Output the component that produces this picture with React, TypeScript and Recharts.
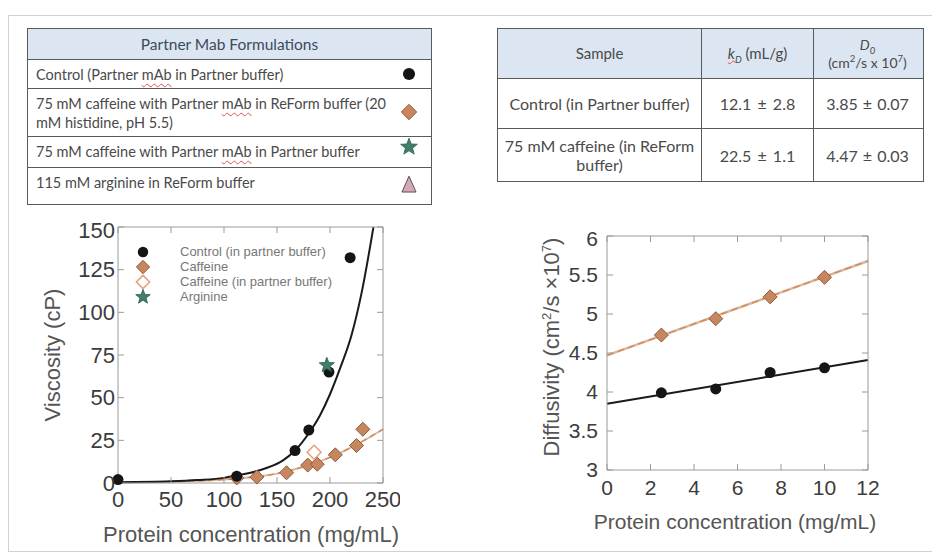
import React from 'react';
import { ComposedChart, Scatter, Line, XAxis, YAxis } from 'recharts';

// viscosity panel (left)
const viscTicksX = [0, 50, 100, 150, 200, 250];
const viscTicksY = [0, 25, 50, 75, 100, 125, 150];
const controlVisc = [
  { x: 0, y: 2 }, { x: 112, y: 4 }, { x: 167, y: 19 }, { x: 180, y: 31 }, { x: 199, y: 65 }, { x: 219, y: 132 },
];
const caffeineVisc = [
  { x: 112, y: 3 }, { x: 131, y: 3.5 }, { x: 159, y: 6 }, { x: 179, y: 10.5 }, { x: 188, y: 11 },
  { x: 205, y: 16.5 }, { x: 225, y: 22 }, { x: 231, y: 31.5 },
];
const caffeinePartnerVisc = [{ x: 185, y: 18 }];
const arginineVisc = [{ x: 197, y: 69 }];
const controlViscFit = [
  { x: 0, y: 0.5 }, { x: 50, y: 1 }, { x: 75, y: 1.7 }, { x: 100, y: 3 }, { x: 112, y: 4.5 }, { x: 125, y: 6 },
  { x: 140, y: 8.8 }, { x: 155, y: 13 }, { x: 167, y: 19 }, { x: 181, y: 30 }, { x: 190, y: 39 },
  { x: 200, y: 52 }, { x: 210, y: 68 }, { x: 220, y: 86 }, { x: 230, y: 112 }, { x: 241, y: 150 },
];
const caffeineViscFit = [
  { x: 0, y: 0.3 }, { x: 50, y: 0.8 }, { x: 100, y: 2 }, { x: 125, y: 3.3 }, { x: 150, y: 5.5 },
  { x: 175, y: 9.5 }, { x: 200, y: 15 }, { x: 225, y: 22.5 }, { x: 250, y: 31.5 },
];

// diffusivity panel (right)
const diffTicksX = [0, 2, 4, 6, 8, 10, 12];
const diffTicksY = [3, 3.5, 4, 4.5, 5, 5.5, 6];
const controlDiff = [{ x: 2.5, y: 3.99 }, { x: 5, y: 4.04 }, { x: 7.5, y: 4.25 }, { x: 10, y: 4.31 }];
const caffeineDiff = [{ x: 2.5, y: 4.73 }, { x: 5, y: 4.94 }, { x: 7.5, y: 5.22 }, { x: 10, y: 5.47 }];
const controlDiffFit = [{ x: 0, y: 3.85 }, { x: 12, y: 4.41 }];
const caffeineDiffFit = [{ x: 0, y: 4.47 }, { x: 12, y: 5.68 }];

// tables
const formulations = [
  { text: ['Control (Partner mAb in Partner buffer)'], marker: 'circle', h: 29 },
  { text: ['75 mM caffeine with Partner mAb in ReForm buffer (20', 'mM histidine, pH 5.5)'], marker: 'diamond', h: 48 },
  { text: ['75 mM caffeine with Partner mAb in Partner buffer'], marker: 'star', h: 31 },
  { text: ['115 mM arginine in ReForm buffer'], marker: 'triangle', h: 36 },
];
const sampleRows = [
  { sample: ['Control (in Partner buffer)'], kd: '12.1 ± 2.8', d0: '3.85 ± 0.07' },
  { sample: ['75 mM caffeine (in ReForm', 'buffer)'], kd: '22.5 ± 1.1', d0: '4.47 ± 0.03' },
];
const legendItems = [
  { label: 'Control (in partner buffer)', marker: 'circle' },
  { label: 'Caffeine', marker: 'diamond' },
  { label: 'Caffeine (in partner buffer)', marker: 'hollow' },
  { label: 'Arginine', marker: 'star' },
];

const FONT = '"Liberation Sans", Arial, sans-serif';
const TFONT = 'Lato, "Open Sans", sans-serif';
const AXIS = '#9a9a9a';

function Marker({ kind, cx, cy, s = 1 }: { kind: string; cx: number; cy: number; s?: number }) {
  if (kind === 'circle') return <circle cx={cx} cy={cy} r={5.5 * s} fill="#151515" />;
  if (kind === 'diamond' || kind === 'hollow') {
    const r = 7 * s;
    const pts = `${cx},${cy - r} ${cx + r},${cy} ${cx},${cy + r} ${cx - r},${cy}`;
    return kind === 'diamond'
      ? <polygon points={pts} fill="#c8865f" stroke="#8e5b3d" strokeWidth={1} />
      : <polygon points={pts} fill="#fff" stroke="#e2a07a" strokeWidth={1.5} />;
  }
  if (kind === 'star') {
    const pts: string[] = [];
    for (let i = 0; i < 10; i++) {
      const r = (i % 2 === 0 ? 8 : 3.4) * s;
      const a = -Math.PI / 2 + (i * Math.PI) / 5;
      pts.push(`${cx + r * Math.cos(a)},${cy + r * Math.sin(a)}`);
    }
    return <polygon points={pts.join(' ')} fill="#3f8068" stroke="#2c5e4b" strokeWidth={0.8} />;
  }
  const r = 8 * s;
  return <polygon points={`${cx},${cy - r} ${cx + r * 0.8},${cy + r * 0.8} ${cx - r * 0.8},${cy + r * 0.8}`} fill="#d9a6b4" stroke="#555" strokeWidth={1} />;
}

function Spell({ line }: { line: string }) {
  const parts = line.split(/(mAb)/);
  return (
    <>
      {parts.map((p, i) =>
        p === 'mAb' ? (
          <span key={i} style={{ textDecoration: 'underline wavy #e05050', textDecorationThickness: 1, textUnderlineOffset: 3 }}>{p}</span>
        ) : (
          <span key={i}>{p}</span>
        ),
      )}
    </>
  );
}

const border = '1.5px solid #5a5a5a';

function FormulationTable() {
  return (
    <div style={{ position: 'absolute', left: 27, top: 28, width: 405, border, fontFamily: TFONT, fontSize: 14.5, color: '#4a4a4a', boxSizing: 'border-box' }}>
      <div style={{ height: 30, background: '#dce6f2', borderBottom: border, display: 'flex', alignItems: 'center', justifyContent: 'center', color: '#3d4a5c', fontSize: 15.5 }}>
        Partner Mab Formulations
      </div>
      {formulations.map((row, i) => (
        <div key={i} style={{ position: 'relative', height: row.h, borderBottom: i < formulations.length - 1 ? border : 'none', padding: '5px 8px', boxSizing: 'border-box', lineHeight: '19px', whiteSpace: 'nowrap' }}>
          {row.text.map((t, j) => (
            <div key={j}><Spell line={t} /></div>
          ))}
          <svg width={24} height={24} style={{ position: 'absolute', right: 10, top: row.marker === 'star' ? -2 : row.h / 2 - 13 }}>
            <Marker kind={row.marker} cx={12} cy={12} s={1.1} />
          </svg>
        </div>
      ))}
    </div>
  );
}

function SampleTable() {
  const cols = [204, 112, 107];
  const cell = (w: number, h: number, extra: React.CSSProperties = {}) => ({
    width: w, height: h, display: 'flex', flexDirection: 'column' as const, alignItems: 'center', justifyContent: 'center',
    textAlign: 'center' as const, boxSizing: 'border-box' as const, lineHeight: '19px', ...extra,
  });
  const small: React.CSSProperties = { fontSize: 9.5, lineHeight: 0 };
  return (
    <div style={{ position: 'absolute', left: 497, top: 28, width: 427, border, fontFamily: TFONT, fontSize: 16, color: '#4a4a4a', boxSizing: 'border-box' }}>
      <div style={{ display: 'flex', background: '#dce6f2', borderBottom: border, fontSize: 15 }}>
        <div style={cell(cols[0], 49, { borderRight: border })}>Sample</div>
        <div style={cell(cols[1], 49, { borderRight: border })}>
          <span>
            <span style={{ fontStyle: 'italic', textDecoration: 'underline wavy #e05050', textDecorationThickness: 1 }}>k<sub style={small}>D</sub></span> (mL/g)
          </span>
        </div>
        <div style={cell(cols[2], 49, { lineHeight: '17px', fontSize: 14 })}>
          <span style={{ fontStyle: 'italic', display: 'block', marginBottom: 1 }}>D<sub style={small}>0</sub></span>
          <span style={{ display: 'block' }}>(cm<sup style={small}>2</sup>/s x 10<sup style={small}>7</sup>)</span>
        </div>
      </div>
      {sampleRows.map((r, i) => (
        <div key={i} style={{ display: 'flex', borderBottom: i < sampleRows.length - 1 ? border : 'none' }}>
          <div style={cell(cols[0], i === 0 ? 49 : 52, { borderRight: border })}>
            {r.sample.map((s, j) => <span key={j}>{s}</span>)}
          </div>
          <div style={cell(cols[1], i === 0 ? 49 : 52, { borderRight: border, wordSpacing: 2 })}>{r.kd}</div>
          <div style={cell(cols[2], i === 0 ? 49 : 52, { wordSpacing: 1 })}>{r.d0}</div>
        </div>
      ))}
    </div>
  );
}

const noTick = () => <g />;

function ViscosityChart() {
  const tickStyle = { fill: '#3c3c3c', fontSize: 22, fontFamily: FONT };
  return (
    <div style={{ position: 'absolute', left: 40, top: 217 }}>
      <ComposedChart width={360} height={320} margin={{ top: 9, right: 16, bottom: 14, left: 18 }}>
        <XAxis dataKey="x" type="number" domain={[0, 250]} ticks={viscTicksX} tick={tickStyle} tickSize={-6} tickMargin={14} height={40} axisLine={{ stroke: AXIS }} tickLine={{ stroke: AXIS }} />
        <XAxis xAxisId="top" orientation="top" dataKey="x" type="number" domain={[0, 250]} ticks={viscTicksX} tick={noTick} tickSize={-6} height={1} axisLine={{ stroke: AXIS }} tickLine={{ stroke: AXIS }} />
        <YAxis dataKey="y" type="number" domain={[0, 150]} ticks={viscTicksY} tick={tickStyle} tickSize={-6} tickMargin={9} width={60} axisLine={{ stroke: AXIS }} tickLine={{ stroke: AXIS }} />
        <YAxis yAxisId="right" orientation="right" dataKey="y" type="number" domain={[0, 150]} ticks={viscTicksY} tick={noTick} tickSize={-6} width={1} axisLine={{ stroke: AXIS }} tickLine={{ stroke: AXIS }} />
        <Line data={caffeineViscFit} dataKey="y" type="monotone" stroke="#d9b9a3" strokeWidth={2} dot={false} isAnimationActive={false} />
        <Line data={caffeineViscFit} dataKey="y" type="monotone" stroke="#d98b55" strokeWidth={1.5} strokeDasharray="6 4" dot={false} isAnimationActive={false} />
        <Line xAxisId="top" yAxisId="right" data={controlViscFit} dataKey="y" type="monotone" stroke="#1a1a1a" strokeWidth={2} dot={false} isAnimationActive={false} />
        <Scatter data={caffeineVisc} isAnimationActive={false} shape={(p: any) => <Marker kind="diamond" cx={p.cx} cy={p.cy} />} />
        <Scatter data={caffeinePartnerVisc} isAnimationActive={false} shape={(p: any) => <Marker kind="hollow" cx={p.cx} cy={p.cy} />} />
        <Scatter data={controlVisc} isAnimationActive={false} shape={(p: any) => <Marker kind="circle" cx={p.cx} cy={p.cy} />} />
        <Scatter data={arginineVisc} isAnimationActive={false} shape={(p: any) => <Marker kind="star" cx={p.cx} cy={p.cy} />} />
      </ComposedChart>
    </div>
  );
}

function DiffusivityChart() {
  const tickStyle = { fill: '#3c3c3c', fontSize: 21, fontFamily: FONT };
  return (
    <div style={{ position: 'absolute', left: 540, top: 226 }}>
      <ComposedChart width={345} height={300} margin={{ top: 9, right: 16, bottom: 16, left: 15 }}>
        <XAxis dataKey="x" type="number" domain={[0, 12]} ticks={diffTicksX} tick={tickStyle} tickSize={-6} tickMargin={16} height={40} axisLine={{ stroke: AXIS }} tickLine={{ stroke: AXIS }} />
        <XAxis xAxisId="top" orientation="top" dataKey="x" type="number" domain={[0, 12]} ticks={diffTicksX} tick={noTick} tickSize={-6} height={1} axisLine={{ stroke: AXIS }} tickLine={{ stroke: AXIS }} />
        <YAxis dataKey="y" type="number" domain={[3, 6]} ticks={diffTicksY} tick={tickStyle} tickSize={-6} tickMargin={15} width={52} axisLine={{ stroke: AXIS }} tickLine={{ stroke: AXIS }} />
        <YAxis yAxisId="right" orientation="right" dataKey="y" type="number" domain={[3, 6]} ticks={diffTicksY} tick={noTick} tickSize={-6} width={1} axisLine={{ stroke: AXIS }} tickLine={{ stroke: AXIS }} />
        <Line data={caffeineDiffFit} dataKey="y" type="linear" stroke="#d9b9a3" strokeWidth={2.5} dot={false} isAnimationActive={false} />
        <Line data={caffeineDiffFit} dataKey="y" type="linear" stroke="#d98b55" strokeWidth={1.5} strokeDasharray="7 4" dot={false} isAnimationActive={false} />
        <Line xAxisId="top" yAxisId="right" data={controlDiffFit} dataKey="y" type="linear" stroke="#1a1a1a" strokeWidth={2} dot={false} isAnimationActive={false} />
        <Scatter data={caffeineDiff} isAnimationActive={false} shape={(p: any) => <Marker kind="diamond" cx={p.cx} cy={p.cy} />} />
        <Scatter data={controlDiff} isAnimationActive={false} shape={(p: any) => <Marker kind="circle" cx={p.cx} cy={p.cy} />} />
      </ComposedChart>
    </div>
  );
}

function ViscosityLegend() {
  return (
    <div style={{ position: 'absolute', left: 133, top: 244, fontFamily: FONT, fontSize: 13, color: '#777' }}>
      {legendItems.map((it) => (
        <div key={it.label} style={{ display: 'flex', alignItems: 'center', height: 15 }}>
          <svg width={20} height={16}>
            <Marker kind={it.marker} cx={10} cy={8} s={0.95} />
          </svg>
          <span style={{ marginLeft: 27, lineHeight: '15px' }}>{it.label}</span>
        </div>
      ))}
    </div>
  );
}

const titleStyle: React.CSSProperties = { position: 'absolute', fontFamily: FONT, color: '#555', whiteSpace: 'nowrap' };

export default function App() {
  return (
    <div style={{ position: 'absolute', left: 0, top: 0, width: 932, height: 559, background: '#fff', overflow: 'hidden' }}>
      <div style={{ position: 'absolute', left: 8, top: 15, width: 940, height: 535, border: '1px solid #d2d2d2' }} />
      <FormulationTable />
      <SampleTable />
      <ViscosityChart />
      <DiffusivityChart />
      <ViscosityLegend />
      <div style={{ ...titleStyle, left: 53, top: 355, fontSize: 22, transform: 'translate(-50%, -50%) rotate(-90deg)' }}>Viscosity (cP)</div>
      <div style={{ ...titleStyle, left: 251, top: 535, fontSize: 22, transform: 'translate(-50%, -50%)' }}>Protein concentration (mg/mL)</div>
      <div style={{ ...titleStyle, left: 552, top: 347, fontSize: 22, lineHeight: '24px', transform: 'translate(-50%, -50%) rotate(-90deg)' }}>
        Diffusivity (cm<sup style={{ fontSize: 13, lineHeight: 0 }}>2</sup>/s ×10<sup style={{ fontSize: 13, lineHeight: 0 }}>7</sup>)
      </div>
      <div style={{ ...titleStyle, left: 735, top: 522, fontSize: 21, transform: 'translate(-50%, -50%)' }}>Protein concentration (mg/mL)</div>
    </div>
  );
}
